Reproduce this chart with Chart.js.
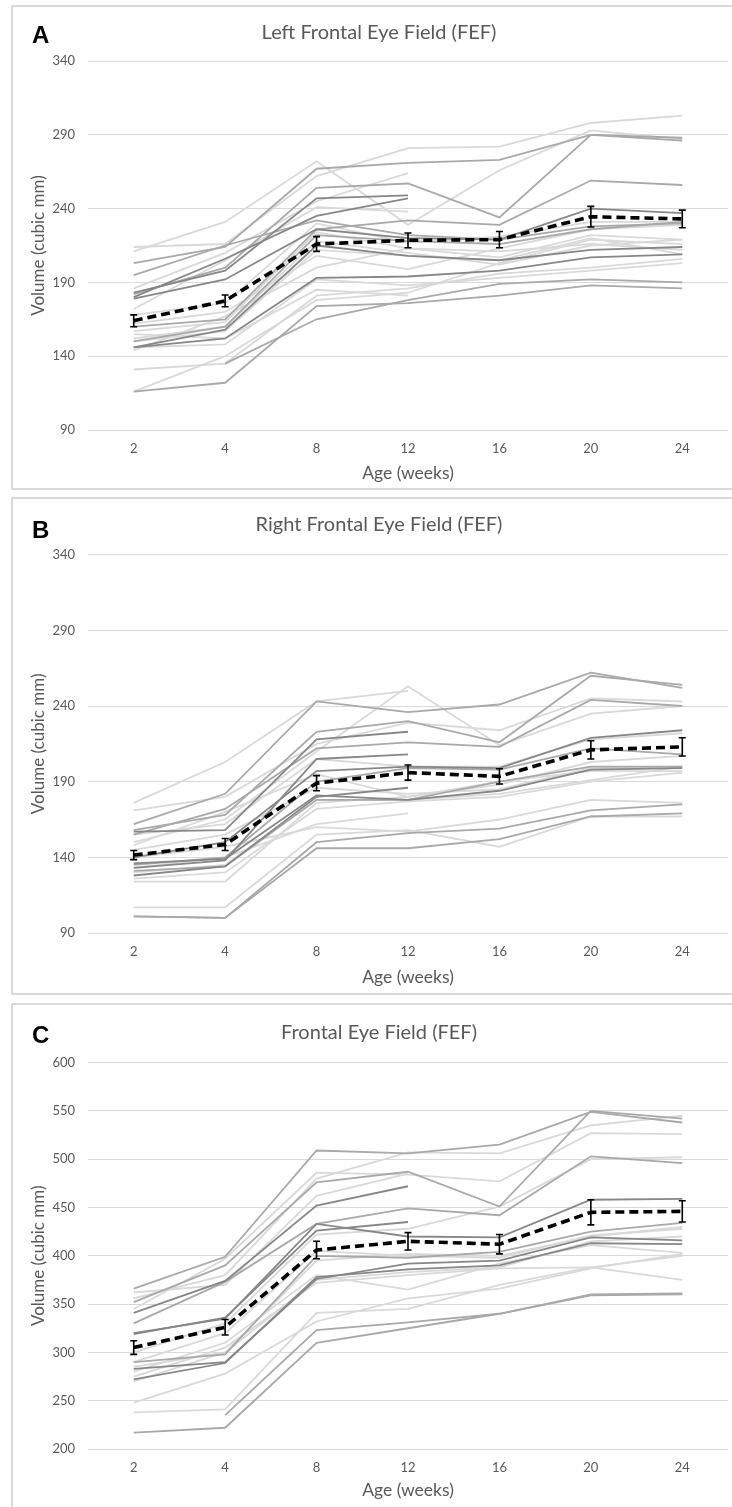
<!DOCTYPE html>
<html>
<head>
<meta charset="utf-8">
<script src="https://cdn.jsdelivr.net/npm/chart.js@4.4.1/dist/chart.umd.min.js"></script>
<style>
  html, body { margin:0; padding:0; background:#fff; }
  body { width:732px; height:1507px; overflow:hidden; position:relative; }
  .frame { position:absolute; box-sizing:border-box; border:2px solid #d9d9d9; background:#fff; }
  .letter { position:absolute; font: bold 24px "Liberation Sans", Arial, sans-serif; line-height:24px; color:#000; }
  canvas { position:absolute; left:0; }
</style>
</head>
<body>
<div class="frame" style="left:11px;top:5px;width:725px;height:485px"></div>
<div class="frame" style="left:11px;top:497px;width:725px;height:498px"></div>
<div class="frame" style="left:11px;top:1003px;width:725px;height:520px"></div>
<canvas id="cA" width="732" height="490" style="top:0px"></canvas>
<canvas id="cB" width="732" height="502" style="top:492px"></canvas>
<canvas id="cC" width="732" height="507" style="top:1000px"></canvas>
<div class="letter" style="left:32px;top:23px">A</div>
<div class="letter" style="left:32px;top:518px">B</div>
<div class="letter" style="left:32px;top:1023px">C</div>
<script>
// ---------- DATA ----------
const weeks = ['2', '4', '8', '12', '16', '20', '24'];

// Panel A: Left FEF (values at weeks 2,4,8,12,16,20,24)
const leftLight = [
  [211, 231, 272, 229, 266, 293, 287],
  [214, 216, 262, 281, 282, 298, 303],
  [186, 210, 245, 264, null, null, null],
  [172, 205, 241, 238, null, null, null],
  [168, 176, 230, 217, 221, 231, 231],
  [157, 163, 224, 213, 207, 222, 219],
  [152, 160, 218, 210, 202, 215, 219],
  [150, 157, 212, 208, 205, 220, 209],
  [131, 135, 181, 186, 196, 200, 206],
  [116, 140, 178, 183, 203, 219, 216],
  [146, 148, 192, 188, 193, 198, 203],
  [162, 170, 208, 199, 213, 226, 229],
  [155, 152, 185, 181, null, null, null],
  [144, 167, 200, 213, 211, 216, 212]
];
const leftMid = [
  [203, 214, 267, 271, 273, 290, 288],
  [182, 200, 254, 257, 234, 290, 286],
  [160, 165, 226, 232, 229, 259, 256],
  [150, 160, 222, 218, 216, 226, 231],
  [116, 122, 174, 176, 181, 188, 186],
  [null, 135, 165, 178, 189, 192, 190],
  [195, 215, 232, 222, 219, 228, 230]
];
const leftDark = [
  [183, 198, 247, 249, null, null, null],
  [180, 206, 235, 247, null, null, null],
  [146, 152, 193, 194, 198, 207, 209],
  [146, 158, 215, 208, 205, 212, 214],
  [179, 192, 226, 220, 219, 240, 237]
];
const leftMean = [164, 177.5, 216, 218.5, 219, 234.5, 233];
const leftSEM = [4, 4, 5, 5, 5.5, 7, 6];
const leftYRange = [90, 340, 50];

// Panel B: Right FEF
const rightLight = [
  [150, 165, 210, 253, 214, 235, 240],
  [176, 203, 243, 250, null, null, null],
  [171, 180, 215, 229, 224, 245, 243],
  [124, 124, 176, 180, 190, 197, 197],
  [126, 130, 172, 177, 180, 190, 196],
  [133, 140, 162, 169, null, null, null],
  [107, 107, 155, 158, 147, 167, 167],
  [140, 147, 160, 157, 165, 178, 176],
  [145, 155, 186, 182, 185, 199, 200],
  [155, 162, 205, 200, 200, 218, 222],
  [130, 135, 178, 178, 182, 191, 200],
  [148, 170, 195, 180, 188, 203, 207]
];
const rightMid = [
  [162, 182, 243, 236, 241, 262, 252],
  [158, 168, 223, 230, 216, 260, 254],
  [155, 172, 212, 216, 213, 244, 240],
  [135, 140, 190, 199, 198, 212, 208],
  [101, 100, 150, 156, 159, 171, 175],
  [101, 100, 146, 146, 152, 167, 169],
  [131, 134, 178, 178, 190, 200, 200]
];
const rightDark = [
  [157, 158, 218, 223, null, null, null],
  [133, 138, 205, 208, null, null, null],
  [140, 150, 197, 200, 199, 219, 224],
  [128, 134, 180, 186, null, null, null],
  [136, 139, 181, 178, 184, 198, 199]
];
const rightMean = [141.5, 148.5, 189, 196, 193.5, 211, 213];
const rightSEM = [3, 4, 5, 5, 5, 6, 6];
const rightYRange = [90, 340, 50];

// Panel C: total FEF
const totalLight = [
  [356, 380, 480, 507, 506, 535, 545],
  [345, 397, 486, 484, 477, 527, 526],
  [300, 330, 422, 428, 451, 500, 502],
  [285, 300, 395, 402, 400, 420, 430],
  [280, 310, 380, 365, 392, 411, 403],
  [275, 305, 372, 380, 387, 388, 375],
  [248, 278, 332, 356, 366, 387, 402],
  [238, 241, 341, 345, 370, 388, 400],
  [270, 300, 375, 383, 388, 415, 420],
  [290, 320, 405, 400, 398, 421, 428],
  [362, 370, 462, 485, null, null, null]
];
const totalMid = [
  [366, 399, 509, 506, 515, 549, 538],
  [352, 390, 476, 487, 451, 550, 542],
  [330, 373, 433, 449, 442, 503, 496],
  [290, 298, 400, 398, 404, 425, 434],
  [null, 235, 323, 331, 340, 359, 360],
  [217, 222, 310, 325, 340, 360, 361]
];
const totalDark = [
  [341, 374, 452, 472, null, null, null],
  [319, 336, 426, 435, null, null, null],
  [320, 335, 433, 420, 419, 458, 459],
  [283, 290, 376, 392, 395, 419, 416],
  [272, 289, 378, 386, 390, 413, 412]
];
const totalMean = [305, 326, 406, 415, 412, 445, 446];
const totalSEM = [7, 8, 9, 9, 10, 13, 11];
const totalYRange = [200, 600, 50];

// ---------- CHART ----------
const FONT = 'Lato, "Open Sans", sans-serif';
const TXT = '#595959';
const SHADE_LIGHT = '#d9d9d9', SHADE_MID = '#a9a9a9', SHADE_DARK = '#878787';

function subjectSets(rows, color, order) {
  return rows.map(r => ({
    data: r, borderColor: color, borderWidth: 1.8, pointRadius: 0,
    fill: false, tension: 0, order: order, spanGaps: false
  }));
}

const errorBars = {
  id: 'errorBars',
  afterDatasetsDraw(chart) {
    const ds = chart.data.datasets[0];
    const err = ds.sem;
    if (!err) return;
    const xs = chart.scales.x, ys = chart.scales.y, ctx = chart.ctx;
    ctx.save();
    ctx.strokeStyle = '#000';
    ctx.lineWidth = 1.6;
    ds.data.forEach((v, i) => {
      const px = xs.getPixelForValue(i);
      const t = ys.getPixelForValue(v + err[i]);
      const b = ys.getPixelForValue(v - err[i]);
      ctx.beginPath();
      ctx.moveTo(px, t); ctx.lineTo(px, b);
      ctx.moveTo(px - 3.5, t); ctx.lineTo(px + 3.5, t);
      ctx.moveTo(px - 3.5, b); ctx.lineTo(px + 3.5, b);
      ctx.stroke();
    });
    ctx.restore();
  }
};

function makePanel(id, title, light, mid, dark, mean, sem, yr, g) {
  const datasets = [
    { data: mean, sem: sem, borderColor: '#000', borderWidth: 3.6, borderDash: [9, 5],
      pointRadius: 0, fill: false, tension: 0, order: 0 }
  ].concat(subjectSets(dark, SHADE_DARK, 1), subjectSets(mid, SHADE_MID, 2), subjectSets(light, SHADE_LIGHT, 3));

  new Chart(document.getElementById(id), {
    type: 'line',
    data: { labels: weeks, datasets: datasets },
    plugins: [errorBars],
    options: {
      responsive: false, animation: false, devicePixelRatio: 1,
      layout: { padding: { left: 30, right: 4, top: 0, bottom: 0 } },
      plugins: {
        legend: { display: false }, tooltip: { enabled: false },
        title: { display: true, text: title, color: TXT,
          font: { family: FONT, size: 20, weight: 'normal' },
          padding: { top: g.tTop, bottom: g.tBottom } }
      },
      scales: {
        x: {
          type: 'category', offset: true,
          grid: { display: false, drawTicks: false },
          border: { display: false },
          ticks: { color: TXT, font: { family: FONT, size: 13 }, padding: 11, maxRotation: 0 },
          title: { display: true, text: 'Age (weeks)', color: TXT,
            font: { family: FONT, size: 17.5 }, padding: { top: 0, bottom: g.xtBottom } },
          afterFit: s => { s.height = g.xH; }
        },
        y: {
          min: yr[0], max: yr[1],
          grid: { color: '#d9d9d9', lineWidth: 1, drawTicks: false },
          border: { display: false },
          ticks: { stepSize: yr[2], color: TXT, font: { family: FONT, size: 13 }, padding: 13 },
          title: { display: true, text: 'Volume (cubic mm)', color: TXT,
            font: { family: FONT, size: 17 }, padding: { top: -2, bottom: 0 } },
          afterFit: s => { s.width = 58; }
        }
      }
    }
  });
}

makePanel('cA', 'Left Frontal Eye Field (FEF)', leftLight, leftMid, leftDark, leftMean, leftSEM, leftYRange,
  { tTop: 21, tBottom: 16, xH: 60, xtBottom: 6 });
makePanel('cB', 'Right Frontal Eye Field (FEF)', rightLight, rightMid, rightDark, rightMean, rightSEM, rightYRange,
  { tTop: 20.5, tBottom: 18.2, xH: 61, xtBottom: 6.5 });
makePanel('cC', 'Frontal Eye Field (FEF)', totalLight, totalMid, totalDark, totalMean, totalSEM, totalYRange,
  { tTop: 21, tBottom: 17.6, xH: 58, xtBottom: 6.5 });
</script>
</body>
</html>
